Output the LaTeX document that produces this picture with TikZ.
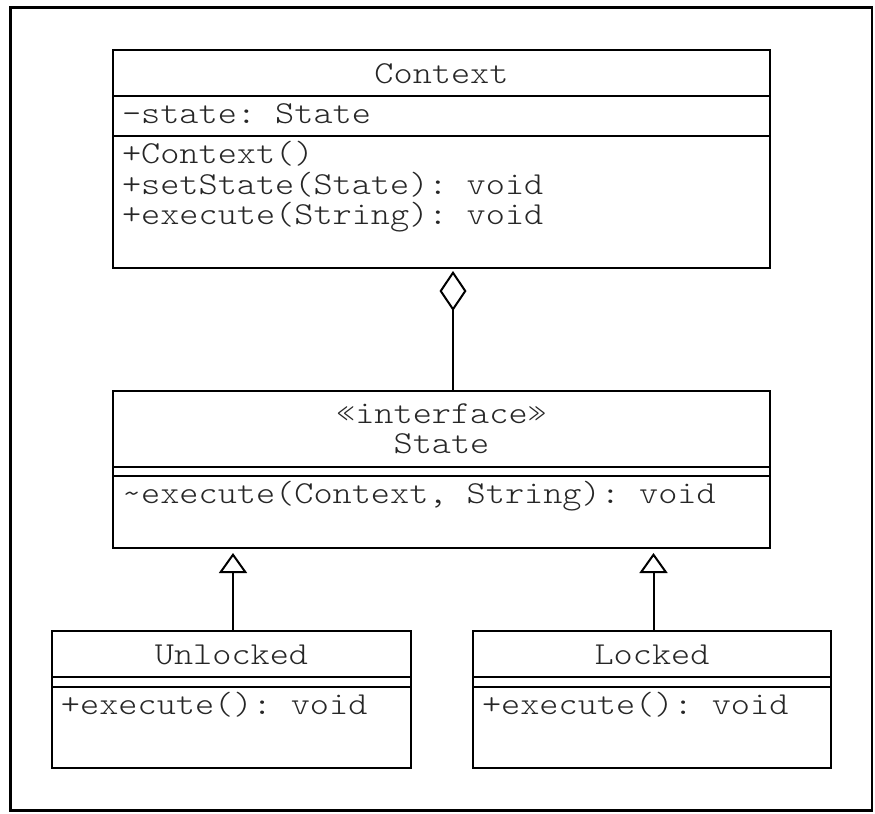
\documentclass[tikz,border=0pt]{standalone}
\usepackage{fontspec}
\setmonofont{lmmonolt10-regular.otf}[FakeStretch=1.14]
\usetikzlibrary{arrows.meta}
\begin{document}
\begin{tikzpicture}[x=0.5pt, y=-0.5pt, line width=1pt,
  every node/.style={font=\ttfamily\fontsize{16}{15}\selectfont, text=black!85, inner sep=0pt},
  classbox/.style={draw, rectangle, outer sep=0pt, line width=1pt},
  aggr/.style={-{Diamond[open, length=20pt, width=13.5pt]}},
  realize/.style={-{Triangle[open, length=10pt, width=14pt]}}]
\useasboundingbox (0,0) rectangle (875,814);
\draw[line width=1.2pt] (10.5,7.5) rectangle (872,810.5);
\node[classbox, minimum width=328.5pt, minimum height=109pt] (context) at (441.5,159) {};
\node[classbox, minimum width=328.5pt, minimum height=78.75pt] (state) at (441.5,469.25) {};
\node[classbox, minimum width=179.5pt, minimum height=68.75pt] (unlocked) at (231.5,699.25) {};
\node[classbox, minimum width=179pt, minimum height=68.75pt] (locked) at (652,699.25) {};
\draw (113,96) -- (770,96);
\draw (113,136) -- (770,136);
\draw (113,466.5) -- (770,466.5);
\draw (113,476) -- (770,476);
\draw (52,676.5) -- (411,676.5);
\draw (52,686.5) -- (411,686.5);
\draw (473,676.5) -- (831,676.5);
\draw (473,686.5) -- (831,686.5);
\node[anchor=base] (ctxname) at (441.5,83.5) {Context};
\node[anchor=base west] (ctxattr) at (121,123.5) {-state: State};
\node[anchor=base west] (ctxop1) at (121,163.5) {+Context()};
\node[anchor=base west] (ctxop2) at (121,194) {+setState(State): void};
\node[anchor=base west] (ctxop3) at (121,224.5) {+execute(String): void};
\node[anchor=base] (stype) at (441.5,423) {«interface»};
\node[anchor=base] (sname) at (441.5,453) {State};
\node[anchor=base west] (sop) at (121,503) {\string~execute(Context, String): void};
\node[anchor=base] (uname) at (231.5,664) {Unlocked};
\node[anchor=base west] (uop) at (60,714.5) {+execute(): void};
\node[anchor=base] (lname) at (652,664) {Locked};
\node[anchor=base west] (lop) at (481,714.5) {+execute(): void};
\coordinate (aggrtip) at (453,271);
\coordinate (utip) at (233,553);
\coordinate (ltip) at (653.5,553);
\draw[aggr] (state.north -| aggrtip) -- (aggrtip);
\draw[realize] (unlocked.north -| utip) -- (utip);
\draw[realize] (locked.north -| ltip) -- (ltip);
\end{tikzpicture}
\end{document}
